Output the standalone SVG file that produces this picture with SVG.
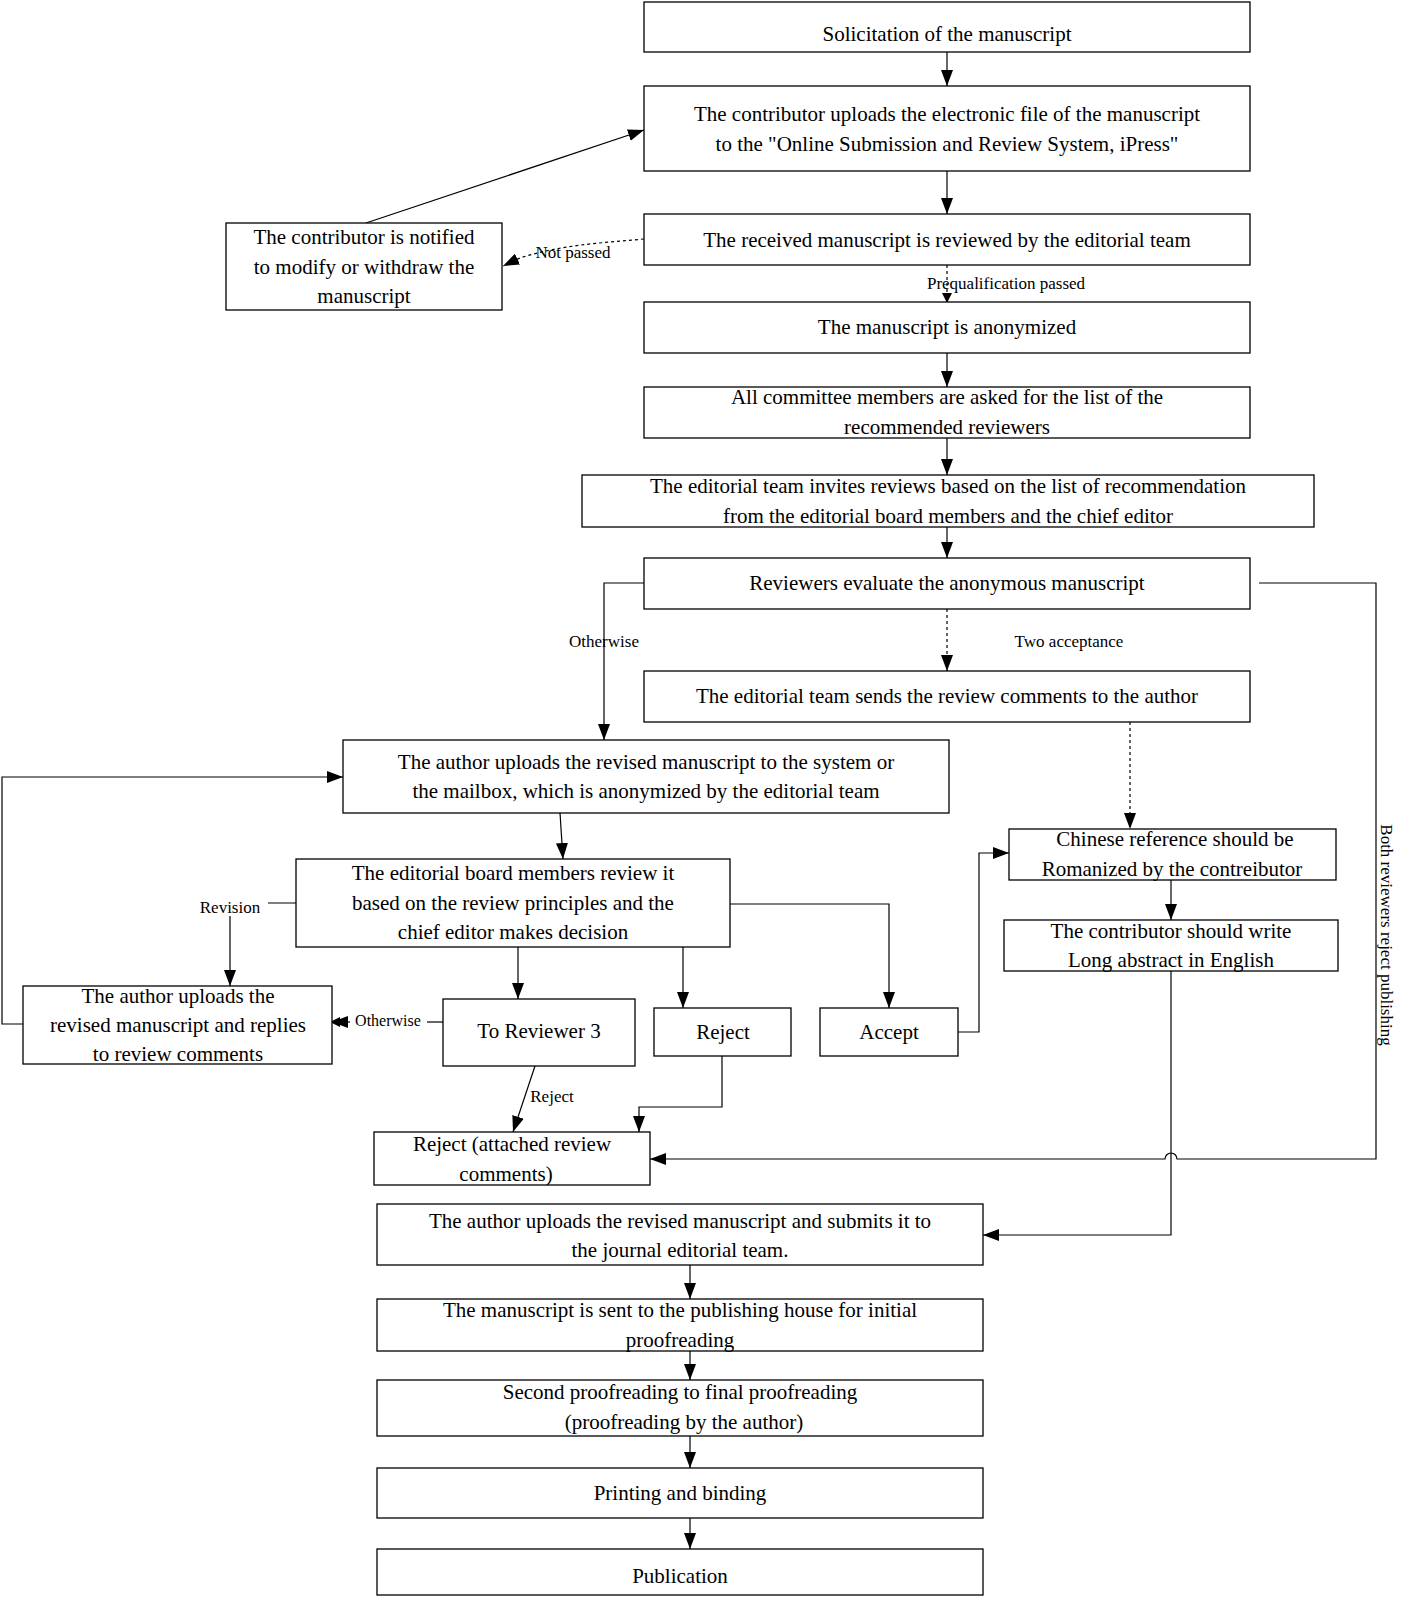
<svg xmlns="http://www.w3.org/2000/svg" width="1404" height="1597" viewBox="0 0 1404 1597">
<style>
.b{fill:#fff;stroke:#000;stroke-width:1.3}
text{font-family:"Liberation Serif","Times New Roman",serif;font-size:21px;fill:#000;text-anchor:middle}
.s{font-size:17px}
.c{fill:none;stroke:#000;stroke-width:1.2}
.d{stroke-dasharray:3,3}
</style>
<defs><marker id="a" markerWidth="10" markerHeight="10" refX="9" refY="5" orient="auto" markerUnits="userSpaceOnUse" viewBox="0 0 10 10"><path d="M0,0 L10,5 L0,10 Z" fill="#000"/></marker>
<marker id="a2" markerWidth="16" markerHeight="16" refX="16" refY="6" orient="auto" markerUnits="userSpaceOnUse" viewBox="0 0 16 12"><path d="M0,0 L16,6 L0,12 Z" fill="#000"/></marker></defs>
<g id="connectors">
<path class="c" d="M947,52V86" marker-end="url(#a2)"/>
<path class="c" d="M947,171V214" marker-end="url(#a2)"/>
<path class="c" d="M366,223L644,130" marker-end="url(#a2)"/>
<path class="c d" d="M644,239C600,243 560,245 520,258L503,266" marker-end="url(#a2)"/>
<path class="c d" d="M947,265V302" marker-end="url(#a)"/>
<path class="c" d="M947,353V387" marker-end="url(#a2)"/>
<path class="c" d="M947,438V475" marker-end="url(#a2)"/>
<path class="c" d="M947,527V558" marker-end="url(#a2)"/>
<path class="c" d="M644,583H604V740" marker-end="url(#a2)"/>
<path class="c d" d="M947,609V671" marker-end="url(#a2)"/>
<path class="c d" d="M1130,722V829" marker-end="url(#a2)"/>
<path class="c" d="M1259,583H1376V1159H1177A6,6 0 0 0 1165,1159H650" marker-end="url(#a2)"/>
<path class="c" d="M560,813L563,859" marker-end="url(#a2)"/>
<path class="c" d="M296,903H268M230,916V986" marker-end="url(#a2)"/>
<path class="c" d="M23,1024H2V777H343" marker-end="url(#a2)"/>
<path class="c" d="M518,947V999" marker-end="url(#a2)"/>
<path class="c" d="M683,947V1008" marker-end="url(#a2)"/>
<path class="c" d="M730,904H889V1008" marker-end="url(#a2)"/>
<path class="c" d="M443,1022H427M331,1022" marker-end="url(#a)"/>
<path class="c" d="M350,1022H332" marker-end="url(#a2)"/>
<path class="c" d="M535,1066L513,1132" marker-end="url(#a2)"/>
<path class="c" d="M722,1056V1107H639V1132" marker-end="url(#a2)"/>
<path class="c" d="M958,1032H979V853H1009" marker-end="url(#a2)"/>
<path class="c" d="M1171,880V920" marker-end="url(#a2)"/>
<path class="c" d="M1171,971V1235H983" marker-end="url(#a2)"/>
<path class="c" d="M690,1265V1299" marker-end="url(#a2)"/>
<path class="c" d="M690,1351V1380" marker-end="url(#a2)"/>
<path class="c" d="M690,1436V1468" marker-end="url(#a2)"/>
<path class="c" d="M690,1518V1549" marker-end="url(#a2)"/>
<text class="s" x="573" y="258">Not passed</text>
<text class="s" x="1006" y="289">Prequalification passed</text>
<text class="s" x="604" y="647">Otherwise</text>
<text class="s" x="1069" y="647">Two acceptance</text>
<text class="s" x="230" y="913">Revision</text>
<text class="s" x="388" y="1026" style="font-size:16px">Otherwise</text>
<text class="s" x="552" y="1102">Reject</text>
<text class="s" transform="translate(1381,935) rotate(90)">Both reviewers reject publishing</text>
</g>
<g id="n1"><rect class="b" x="644" y="2" width="606" height="50"/><text x="947" y="41">Solicitation of the manuscript</text></g>
<g id="n2"><rect class="b" x="644" y="86" width="606" height="85"/><text x="947" y="121">The contributor uploads the electronic file of the manuscript</text><text x="947" y="151">to the "Online Submission and Review System, iPress"</text></g>
<g id="n3"><rect class="b" x="644" y="214" width="606" height="51"/><text x="947" y="247">The received manuscript is reviewed by the editorial team</text></g>
<g id="n4"><rect class="b" x="226" y="223" width="276" height="87"/><text x="364" y="244">The contributor is notified</text><text x="364" y="274">to modify or withdraw the</text><text x="364" y="303">manuscript</text></g>
<g id="n5"><rect class="b" x="644" y="302" width="606" height="51"/><text x="947" y="334">The manuscript is anonymized</text></g>
<g id="n6"><rect class="b" x="644" y="387" width="606" height="51"/><text x="947" y="404">All committee members are asked for the list of the</text><text x="947" y="434">recommended reviewers</text></g>
<g id="n7"><rect class="b" x="582" y="475" width="732" height="52"/><text x="948" y="493">The editorial team invites reviews based on the list of recommendation</text><text x="948" y="523">from the editorial board members and the chief editor</text></g>
<g id="n8"><rect class="b" x="644" y="558" width="606" height="51"/><text x="947" y="590">Reviewers evaluate the anonymous manuscript</text></g>
<g id="n9"><rect class="b" x="644" y="671" width="606" height="51"/><text x="947" y="703">The editorial team sends the review comments to the author</text></g>
<g id="n10"><rect class="b" x="343" y="740" width="606" height="73"/><text x="646" y="769">The author uploads the revised manuscript to the system or</text><text x="646" y="798">the mailbox, which is anonymized by the editorial team</text></g>
<g id="n11"><rect class="b" x="296" y="859" width="434" height="88"/><text x="513" y="880">The editorial board members review it</text><text x="513" y="910">based on the review principles and the</text><text x="513" y="939">chief editor makes decision</text></g>
<g id="n12"><rect class="b" x="23" y="986" width="309" height="78"/><text x="178" y="1003">The author uploads the</text><text x="178" y="1032">revised manuscript and replies</text><text x="178" y="1061">to review comments</text></g>
<g id="n13"><rect class="b" x="443" y="999" width="192" height="67"/><text x="539" y="1038">To Reviewer 3</text></g>
<g id="n14"><rect class="b" x="654" y="1008" width="137" height="48"/><text x="723" y="1039">Reject</text></g>
<g id="n15"><rect class="b" x="820" y="1008" width="138" height="48"/><text x="889" y="1039">Accept</text></g>
<g id="n16"><rect class="b" x="1009" y="829" width="327" height="51"/><text x="1175" y="846">Chinese reference should be</text><text x="1172" y="876">Romanized  by the contreibutor</text></g>
<g id="n17"><rect class="b" x="1004" y="920" width="334" height="51"/><text x="1171" y="938">The contributor should write</text><text x="1171" y="967">Long abstract in English</text></g>
<g id="n18"><rect class="b" x="374" y="1132" width="276" height="53"/><text x="512" y="1151">Reject  (attached review</text><text x="506" y="1181">comments)</text></g>
<g id="n19"><rect class="b" x="377" y="1204" width="606" height="61"/><text x="680" y="1228">The author uploads the revised manuscript and submits it to</text><text x="680" y="1257">the journal editorial team.</text></g>
<g id="n20"><rect class="b" x="377" y="1299" width="606" height="52"/><text x="680" y="1317">The manuscript is sent to the publishing house for initial</text><text x="680" y="1347">proofreading</text></g>
<g id="n21"><rect class="b" x="377" y="1380" width="606" height="56"/><text x="680" y="1399">Second proofreading to final proofreading</text><text x="684" y="1429">(proofreading by the author)</text></g>
<g id="n22"><rect class="b" x="377" y="1468" width="606" height="50"/><text x="680" y="1500">Printing and binding</text></g>
<g id="n23"><rect class="b" x="377" y="1549" width="606" height="46"/><text x="680" y="1583">Publication</text></g>
</svg>
